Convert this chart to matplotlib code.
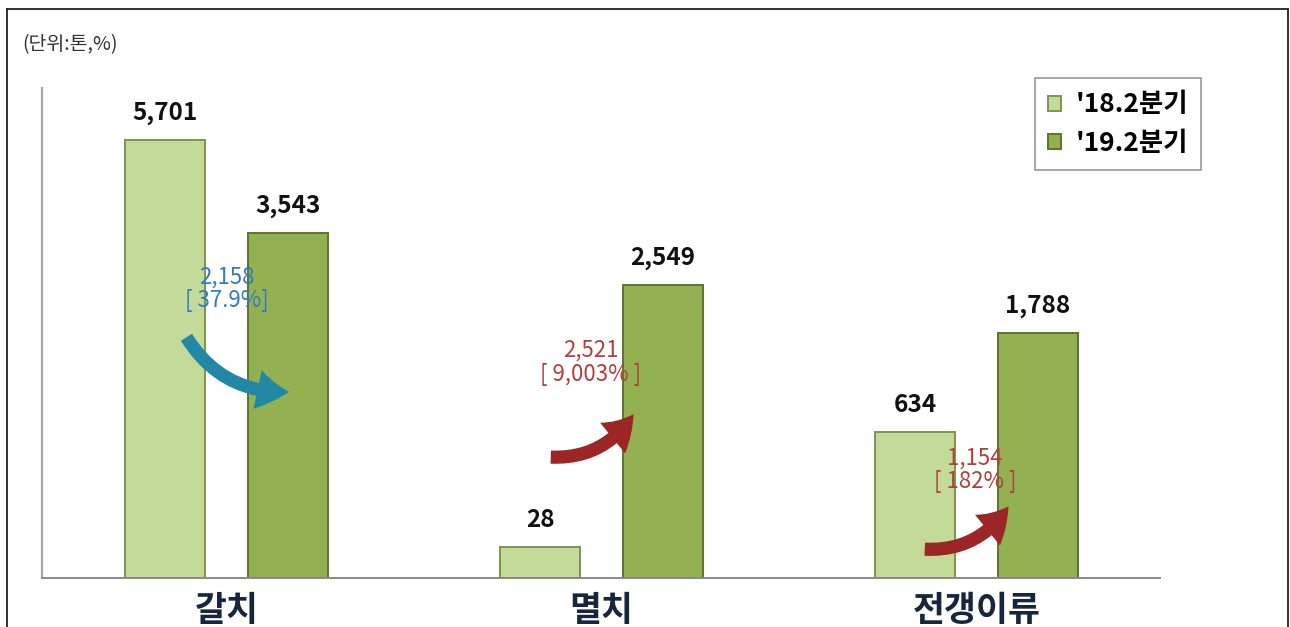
import numpy as np
import matplotlib
matplotlib.use("Agg")
import matplotlib.pyplot as plt
from matplotlib.lines import Line2D
from matplotlib.patches import FancyArrowPatch

plt.rcParams['font.family'] = ['Noto Sans CJK KR', 'DejaVu Sans']

categories = ['갈치', '멸치', '전갱이류']
series_names = ["'18.2분기", "'19.2분기"]
q2_2018 = [5701, 28, 634]
q2_2019 = [3543, 2549, 1788]
change_amount = ['2,158', '2,521', '1,154']
change_pct = ['[ 37.9%]', '[ 9,003% ]', '[ 182% ]']

light_green = '#c4da98'
dark_green = '#93b150'

fig = plt.figure(figsize=(12.9, 6.27), dpi=100)
ax = fig.add_axes([42 / 1290, 49 / 627, 1118 / 1290, 490 / 627])

# the original graphic is not linear; a square-root scale is close to it
ax.set_yscale('function', functions=(np.sqrt, np.square))
ax.set_ylim(0, 7140)
ax.set_xlim(-0.492, 2.489)

x = np.arange(len(categories))
w = 0.213
off = 0.164
b1 = ax.bar(x - off, q2_2018, w, color=light_green, edgecolor='#7d9450', linewidth=1.4,
            label=series_names[0])
b2 = ax.bar(x + off, q2_2019, w, color=dark_green, edgecolor='#5f7330', linewidth=1.4,
            label=series_names[1])

for bars in (b1, b2):
    for rect in bars:
        v = rect.get_height()
        ax.annotate(f"{int(v):,}", (rect.get_x() + rect.get_width() / 2, v),
                    xytext=(0, 11), textcoords='offset points', ha='center', va='bottom',
                    fontsize=17.5, fontweight='bold', color='#111111')

for s in ('top', 'right'):
    ax.spines[s].set_visible(False)
ax.spines['left'].set_color('#a8a8a8')
ax.spines['left'].set_linewidth(1.6)
ax.spines['bottom'].set_color('#8a8a8a')
ax.spines['bottom'].set_linewidth(1.4)
ax.set_yticks([])
ax.set_xticks([])

for i, c in enumerate(categories):
    ax.text(x[i], -0.066, c, transform=ax.get_xaxis_transform(), ha='center', va='center',
            fontsize=25, fontweight='bold', color='#17263c', clip_on=False)

# change annotations: text and curved arrows (axes fraction)
txt_colors = ['#2f7cc2', '#b0403e', '#b0403e']
arrow_colors = ['#2387a6', '#9c2626', '#9c2626']
txt_pos = [(0.1654, 0.590), (0.4906, 0.440), (0.8346, 0.221)]
arrows = [((0.1279, 0.496), (0.2236, 0.380)),
          ((0.4526, 0.247), (0.5304, 0.339)),
          ((0.7871, 0.059), (0.8658, 0.151))]
for i in range(3):
    tx, ty = txt_pos[i]
    ax.text(tx, ty, change_amount[i] + '\n' + change_pct[i], transform=ax.transAxes,
            ha='center', va='center', fontsize=16, color=txt_colors[i], linespacing=1.05)
    p0, p1 = arrows[i]
    ax.add_patch(FancyArrowPatch(p0, p1, transform=ax.transAxes,
                                 connectionstyle='arc3,rad=0.3',
                                 arrowstyle='simple,head_width=1.5,head_length=1.2,tail_width=0.5',
                                 mutation_scale=19, color=arrow_colors[i], lw=0))

leg = ax.legend(loc='upper right', bbox_to_anchor=(1.037, 1.02), borderaxespad=0,
                prop={'weight': 'bold', 'size': 19}, handlelength=0.5, handleheight=0.5,
                handletextpad=0.55, borderpad=0.5, labelspacing=0.45, fancybox=False,
                edgecolor='#9a9a9a', framealpha=1)
leg.get_frame().set_linewidth(1.2)

fig.text(22 / 1290, 1 - 45 / 627, '(단위:톤,%)', ha='left', va='center', fontsize=14,
         color='#333333')

# outer frame of the original picture
for xs, ys in (([7 / 1290, 7 / 1290], [0, 1 - 9 / 627]),
               ([7 / 1290, 1288 / 1290], [1 - 9 / 627, 1 - 9 / 627]),
               ([1288 / 1290, 1288 / 1290], [0, 1 - 9 / 627])):
    fig.add_artist(Line2D(xs, ys, transform=fig.transFigure, color='#222222', lw=1.3))

fig.savefig('out.png', dpi=100)
